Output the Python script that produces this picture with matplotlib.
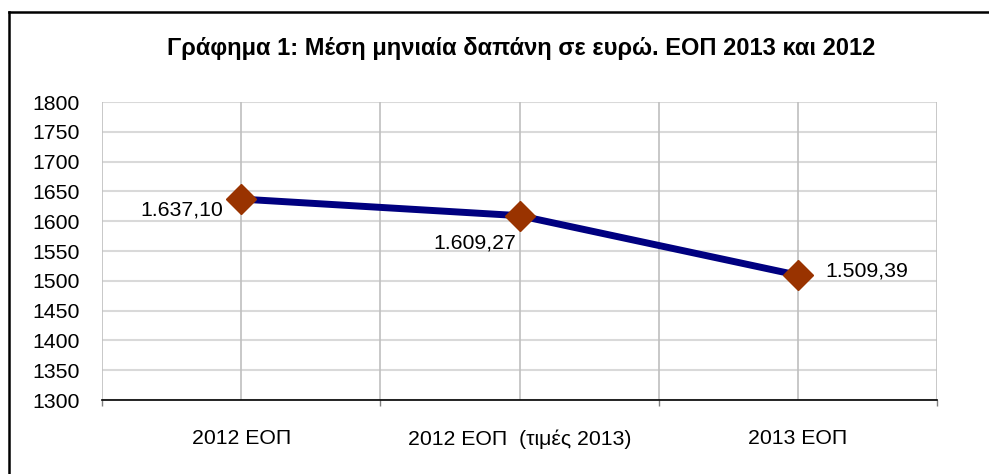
import matplotlib
matplotlib.use("Agg")
import matplotlib.pyplot as plt
from matplotlib.lines import Line2D
import numpy as np

plt.rcParams['font.family'] = ['Liberation Sans', 'DejaVu Sans']

categories = ["2012 ΕΟΠ", "2012 ΕΟΠ  (τιμές 2013)", "2013 ΕΟΠ"]
values = [1637.10, 1609.27, 1509.39]
yticks = list(range(1300, 1801, 50))
title = "Γράφημα 1: Μέση μηνιαία δαπάνη σε ευρώ. ΕΟΠ 2013 και 2012"


def greek_fmt(v):
    # 1637.10 -> 1.637,10
    s = f"{v:,.2f}"
    return s.replace(",", "X").replace(".", ",").replace("X", ".")


fig = plt.figure(figsize=(9.89, 4.74), dpi=100)
ax = fig.add_axes([102/989, 1 - 400/474, (937-102)/989, (400-102)/474])

x = np.arange(len(categories))
ax.set_xlim(-0.5, len(categories) - 0.5)
ax.set_ylim(yticks[0], yticks[-1])

# gridlines
for yv in yticks:
    ax.axhline(yv, color='#d9d9d9', lw=1.5, zorder=0)
for xv in np.arange(-0.5, len(categories), 0.5):
    ax.axvline(xv, color='#bfbfbf', lw=1.2, zorder=0)

ax.plot(x, values, color='#000080', lw=5, zorder=3, solid_capstyle='butt')
ax.plot(x, values, ls='none', marker='D', ms=15, color='#993300',
        markeredgecolor='#993300', zorder=4)

# data labels
offsets = [(-13, -8, 'right'), (-2, -20, 'right'), (20, 3, 'left')]
for xi, v, (dx, dy, ha) in zip(x, values, offsets):
    ax.annotate(greek_fmt(v), (xi, v), xytext=(dx, dy), textcoords='offset points',
                ha=ha, va='center', fontsize=15.3, color='black', zorder=5)

for s in ['left', 'right', 'top']:
    ax.spines[s].set_visible(False)
ax.spines['bottom'].set_color('black')
ax.spines['bottom'].set_linewidth(1.2)

ax.set_yticks(yticks)
ax.set_yticklabels([str(t) for t in yticks])
ax.tick_params(axis='y', length=0, pad=16, labelsize=15.3)

ax.set_xticks(x)
ax.set_xticklabels(categories)
ax.tick_params(axis='x', which='major', length=0, pad=21, labelsize=15.3)
ax.set_xticks(np.arange(-0.5, len(categories), 1.0), minor=True)
ax.tick_params(axis='x', which='minor', length=4, color='#808080', width=1)

fig.text(521/989, 1 - 48/474, title, ha='center', va='center',
         fontsize=17, fontweight='bold')

# outer frame (only left and top visible)
fig.add_artist(Line2D([9/989, 9/989], [0, 1 - 12/474], transform=fig.transFigure,
                      color='black', lw=1.8))
fig.add_artist(Line2D([9/989, 1], [1 - 12/474, 1 - 12/474], transform=fig.transFigure,
                      color='black', lw=1.8))

fig.savefig("out.png", dpi=100)
